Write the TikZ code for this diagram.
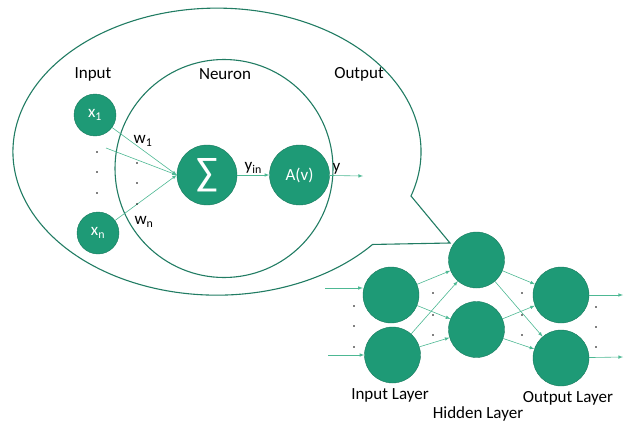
\documentclass[tikz,border=0pt]{standalone}
\usepackage{fontspec}
\setmainfont{Carlito}
\definecolor{nodegreen}{HTML}{1E9A76}
\definecolor{rimgreen}{HTML}{17795D}
\definecolor{arrowgreen}{HTML}{4DB893}
\definecolor{bubblegreen}{HTML}{217C63}
\begin{document}
\begin{tikzpicture}[x=1pt, y=-1pt, font=\fontsize{17}{20}\selectfont]
    % Define styles
    \tikzstyle{unit} = [circle, inner sep=0pt, minimum size=42pt, fill=nodegreen, draw=rimgreen, thin, text=white]
    \tikzstyle{bigunit} = [unit, minimum size=60pt]
    \tikzstyle{layerunit} = [unit, minimum size=56pt]
    \tikzstyle{line} = [draw, -latex, line width=0.6pt, arrowgreen]
    \tikzstyle{label} = [text=black, inner sep=1pt]
    \tikzstyle{outline} = [draw=bubblegreen, line width=1.1pt]
    \tikzstyle{dot} = [fill=black]

    \useasboundingbox (0,0) rectangle (624,423);

    % Speech bubble and neuron body
    \draw [outline] (411,196) arc [start angle=-18, end angle=319.7, x radius=204pt, y radius=143.5pt]
        -- (450,243) -- cycle;
    \draw [outline] (224,168.5) circle [radius=109pt];

    % Place nodes
    \node [unit] (x1) at (95,115) {x\textsubscript{1}};
    \node [unit] (xn) at (98,233) {x\textsubscript{n}};
    \node [bigunit] (sum) at (207,175) {\fontsize{40}{40}\selectfont ∑};
    \node [bigunit] (act) at (299.5,175) {A(v)};
    \coordinate (xmid) at (106,148);
    \coordinate (yend) at (363,176);

    \node (input) at (93,74) {Input};
    \node (neuron) at (225,74) {Neuron};
    \node (output) at (359,74) {Output};

    \node [layerunit] (i1) at (391,295) {};
    \node [layerunit] (i2) at (392.5,355) {};
    \node [layerunit] (h1) at (476.5,260) {};
    \node [layerunit] (h2) at (476.5,329.5) {};
    \node [layerunit] (o1) at (561,295) {};
    \node [layerunit] (o2) at (561,358) {};
    \coordinate (in1) at (325,288);
    \coordinate (in2) at (328,355);
    \coordinate (out1) at (623,295);
    \coordinate (out2) at (623,357);

    \node (inlayer) at (390,395) {Input Layer};
    \node (hidlayer) at (478,414) {Hidden Layer};
    \node (outlayer) at (568,398) {Output Layer};

    % Draw edges
    \path [line] (x1) -- (sum.west);
    \path [line] (xmid) -- (sum.west);
    \path [line] (xn) -- (sum.west);
    \path [line] (sum) -- node [label, above] {y\textsubscript{in}} (act);
    \path [line] (act) -- node [label, pos=0.2, above] {y} (yend);
    \node [label] (w1) at (143,141) {w\textsubscript{1}};
    \node [label] (wn) at (144,222) {w\textsubscript{n}};

    \path [line] (in1) -- (in1 -| i1.west);
    \path [line] (in2) -- (i2);
    \path [line] (i1) -- (h1);
    \path [line] (i1) -- (h2);
    \path [line] (i2) -- (h1);
    \path [line] (i2) -- (h2);
    \path [line] (h1) -- (o1);
    \path [line] (h1) -- (o2);
    \path [line] (h2) -- (o1);
    \path [line] (h2) -- (o2);
    \path [line] (o1) -- (out1);
    \path [line] (o2) -- (out2);

    % Dots
    \foreach \px/\py in {97/152, 97/172, 97/193, 137/163, 137/183, 137/204,
                         354/306, 354/326, 354/347, 433/293, 433/315, 433/335,
                         522/293, 522/315, 522/335, 596/307, 596/327, 596/347}
        \fill [dot] (\px,\py) circle (0.9pt);
\end{tikzpicture}
\end{document}
